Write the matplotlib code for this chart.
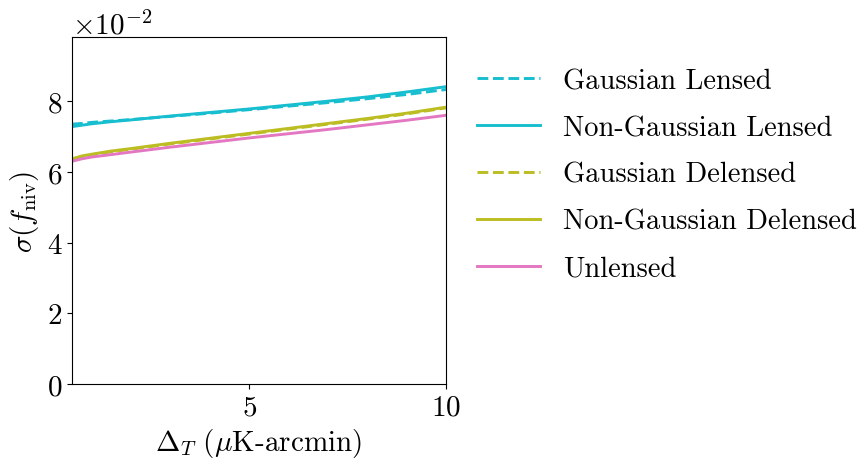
import numpy as np
import matplotlib
matplotlib.use("Agg")
import matplotlib.pyplot as plt

plt.rcParams['font.family'] = 'serif'
plt.rcParams['font.serif'] = ['cmr10']
plt.rcParams['mathtext.fontset'] = 'cm'
plt.rcParams['axes.formatter.use_mathtext'] = True
plt.rcParams['axes.unicode_minus'] = True

# noise level (muK-arcmin)
delta_t = [0.5, 0.75, 1, 1.5, 2, 3, 4, 5, 6, 7, 8, 9, 10]

gauss_lensed = [7.35, 7.37, 7.40, 7.44, 7.48, 7.57, 7.66, 7.76, 7.86, 7.96, 8.07, 8.19, 8.33]
ng_lensed = [7.28, 7.32, 7.36, 7.42, 7.47, 7.58, 7.68, 7.78, 7.89, 8.00, 8.12, 8.26, 8.41]
gauss_delensed = [6.35, 6.43, 6.48, 6.57, 6.64, 6.79, 6.93, 7.07, 7.21, 7.35, 7.49, 7.64, 7.81]
ng_delensed = [6.37, 6.45, 6.50, 6.59, 6.66, 6.81, 6.95, 7.09, 7.23, 7.37, 7.51, 7.66, 7.83]
unlensed = [6.30, 6.37, 6.42, 6.49, 6.56, 6.70, 6.83, 6.96, 7.08, 7.20, 7.33, 7.46, 7.60]

x = np.array(delta_t)
scale = 1e-2

fig = plt.figure(figsize=(8.65, 4.6), dpi=100)
ax = fig.add_axes([0.0832, 0.163, 0.4324, 0.754])

ax.plot(x, np.array(gauss_lensed)*scale, '--', color='tab:cyan', lw=2.1, label='Gaussian Lensed')
ax.plot(x, np.array(ng_lensed)*scale, '-', color='tab:cyan', lw=2.1, label='Non-Gaussian Lensed')
ax.plot(x, np.array(gauss_delensed)*scale, '--', color='tab:olive', lw=2.1, label='Gaussian Delensed')
ax.plot(x, np.array(ng_delensed)*scale, '-', color='tab:olive', lw=2.1, label='Non-Gaussian Delensed')
ax.plot(x, np.array(unlensed)*scale, '-', color='tab:pink', lw=2.1, label='Unlensed')

ax.set_xlim(0.5, 10)
ax.set_ylim(0, 0.0981)
ax.set_xticks([5, 10])
ax.set_yticks([0, 0.02, 0.04, 0.06, 0.08])
ax.ticklabel_format(axis='y', style='sci', scilimits=(-2, -2))
ax.tick_params(labelsize=21)
ax.yaxis.get_offset_text().set_fontsize(21)

ax.set_xlabel(r'$\Delta_T\ (\mu$K-arcmin)', fontsize=21)
ax.set_ylabel(r'$\sigma(f_{\rm niv})$', fontsize=21)

ax.legend(loc='upper left', bbox_to_anchor=(1.015, 0.985), frameon=False, fontsize=20.5,
          handlelength=2.2, labelspacing=0.72)

fig.savefig('out.png', dpi=100)
